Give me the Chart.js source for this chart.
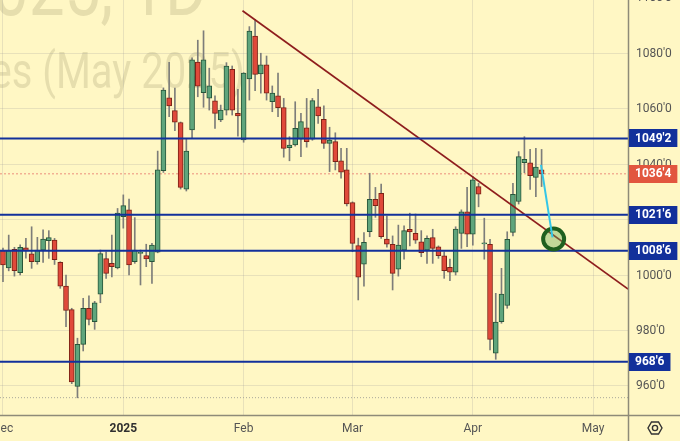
<!DOCTYPE html>
<html>
<head>
<meta charset="utf-8">
<script src="https://cdn.jsdelivr.net/npm/chart.js@4.4.1/dist/chart.umd.min.js"></script>
<style>
  html, body { margin: 0; padding: 0; background: #fff7c4; }
  #wrap { width: 680px; height: 441px; }
</style>
</head>
<body>
<div id="wrap"><canvas id="chart" width="680" height="441"></canvas></div>
<script>
// daily bars, Dec 2 2024 .. mid Apr 2025 (one entry per trading day)
const opens = [
  1008.8, 1002.6, 1009.3, 1000.8, 1009.8, 1007.6, 1004.8, 1009.0, 1012.4, 1012.6,
  1004.6, 996.0, 987.5, 959.8, 975.0, 988.0, 983.2, 993.1, 1005.9, 1004.2,
  1002.6, 1021.0, 1023.5, 1004.8, 1007.8, 1007.0, 1004.8, 1008.2, 1037.6, 1063.9,
  1059.3, 1055.0, 1031.0, 1052.3, 1076.8, 1065.8, 1063.8, 1062.8, 1055.9, 1059.5,
  1074.2, 1058.3, 1048.7, 1070.7, 1086.2, 1072.5, 1075.8, 1062.5, 1064.6, 1060.4,
  1045.9, 1046.9, 1049.0, 1053.1, 1049.0, 1060.7, 1056.2, 1047.5, 1048.1, 1041.2,
  1037.9, 1026.1, 1010.6, 1003.9, 1015.6, 1027.3, 1029.5, 1013.0, 1011.1, 1002.1,
  1009.0, 1016.5, 1015.0, 1012.0, 1009.0, 1013.5, 1010.2, 1006.9, 1002.8, 1001.0,
  1015.0, 1022.8, 1014.7, 1031.9, 1011.2, 1011.1, 971.8, 983.2, 989.0, 1015.4,
  1026.5, 1040.5, 1040.5, 1035.2, 1037.9
];
const highs = [
  1009.7, 1014.4, 1010.0, 1010.9, 1013.2, 1017.4, 1013.6, 1016.3, 1016.0, 1013.2,
  1004.8, 1000.0, 988.0, 977.2, 991.6, 992.5, 990.5, 1009.0, 1008.4, 1014.4,
  1024.0, 1028.9, 1027.4, 1020.7, 1009.0, 1011.1, 1011.4, 1044.7, 1067.5, 1076.7,
  1067.4, 1055.2, 1049.3, 1078.3, 1084.7, 1088.1, 1074.6, 1064.6, 1061.3, 1076.6,
  1075.4, 1067.0, 1073.0, 1089.6, 1092.2, 1080.0, 1079.0, 1068.2, 1072.8, 1063.7,
  1049.9, 1062.5, 1058.3, 1063.7, 1063.7, 1067.0, 1061.0, 1053.3, 1051.3, 1045.7,
  1045.7, 1026.4, 1013.3, 1015.3, 1036.7, 1031.6, 1032.8, 1021.3, 1014.1, 1018.0,
  1017.7, 1022.3, 1022.0, 1016.0, 1014.1, 1016.5, 1010.5, 1008.4, 1005.7, 1017.4,
  1023.5, 1031.6, 1035.5, 1033.1, 1020.5, 1012.9, 993.4, 1002.4, 1015.6, 1033.1,
  1044.5, 1049.9, 1045.3, 1045.7, 1045.3
];
const lows = [
  997.6, 1001.5, 999.6, 1000.0, 1006.1, 1002.4, 1003.9, 1004.5, 1006.0, 1003.8,
  995.2, 981.4, 960.8, 955.7, 972.6, 982.0, 980.4, 990.0, 998.8, 999.3,
  1002.2, 1016.9, 1000.0, 1004.2, 996.4, 1003.0, 997.0, 1008.0, 1037.0, 1057.1,
  1052.1, 1031.0, 1030.3, 1049.3, 1064.3, 1060.5, 1059.5, 1052.9, 1055.3, 1057.7,
  1057.7, 1050.1, 1047.9, 1063.1, 1066.5, 1065.6, 1063.1, 1058.9, 1057.1, 1042.5,
  1041.2, 1046.5, 1042.7, 1046.1, 1048.6, 1054.7, 1045.7, 1037.3, 1037.9, 1034.9,
  1024.9, 1008.4, 991.0, 996.0, 1013.8, 1020.8, 1013.2, 1010.0, 994.6, 999.6,
  1005.7, 1010.5, 1011.4, 1006.6, 1004.2, 1004.2, 1006.0, 998.8, 998.0, 1000.0,
  1009.6, 1010.2, 1010.8, 1024.6, 1005.7, 973.0, 969.6, 982.6, 988.0, 1014.1,
  1025.6, 1036.9, 1030.9, 1028.3, 1031.9
];
const closes = [
  1003.6, 1008.8, 1001.6, 1010.0, 1008.8, 1004.8, 1009.0, 1013.0, 1013.5, 1005.5,
  996.0, 987.2, 961.4, 975.0, 988.0, 984.0, 990.0, 1007.7, 1000.6, 1003.0,
  1022.3, 1025.0, 1003.6, 1009.0, 1008.2, 1005.8, 1010.8, 1037.9, 1066.7, 1061.0,
  1055.1, 1031.6, 1044.7, 1077.6, 1068.1, 1077.6, 1068.2, 1058.3, 1059.5, 1075.4,
  1059.5, 1057.4, 1072.8, 1088.0, 1072.4, 1075.8, 1065.6, 1065.6, 1060.4, 1045.7,
  1046.9, 1052.9, 1055.3, 1048.1, 1062.9, 1057.4, 1047.5, 1048.7, 1040.9, 1037.1,
  1025.6, 1011.4, 999.2, 1011.8, 1027.3, 1025.0, 1013.8, 1011.1, 1000.6, 1010.8,
  1016.0, 1015.5, 1012.6, 1008.1, 1013.2, 1009.6, 1007.0, 1001.6, 1001.0, 1016.6,
  1022.8, 1014.7, 1034.3, 1029.2, 1011.6, 976.8, 983.0, 993.1, 1012.9, 1029.1,
  1042.7, 1041.7, 1035.8, 1038.9, 1036.5
];

const monthTicks = [0, 21, 42, 61, 82, 103];
const monthLabels = ['Dec', '2025', 'Feb', 'Mar', 'Apr', 'May'];
const priceTicks = [960, 980, 1000, 1020, 1040, 1060, 1080, 1100];

// drawn levels (price in cents, eighths after the tick mark)
const levelValues = [1049.25, 1021.75, 1008.75, 968.75];
const levelLabels = ["1049'2", "1021'6", "1008'6", "968'6"];
const lastPrice = 1036.5;
const lastLabel = "1036'4";
const contractLow = 955.75;

// drawings: trend line, forecast arrow, target circle
const trendX = [41.8, 109.1];
const trendY = [1095.3, 994.9];
const arrowX = [93.9, 95.9];
const arrowY = [1039.7, 1013.6];
const targetX = [96.1];
const targetY = [1013.0];

const X_MIN = -0.52, X_MAX = 109.08;
const Y_MIN = 949.5, Y_MAX = 1099.2;

const BG = '#fff7c4';
const LEVEL_BLUE = '#12309b';
const GRID = 'rgba(150,150,150,0.22)';

const fmt = v => {
  const w = Math.floor(v + 1e-9);
  return w + "'" + Math.round((v - w) * 8);
};

const idx = opens.map((_, i) => i);
const isUp = idx.map(i => closes[i] >= opens[i]);

const hline = (v) => [{ x: X_MIN, y: v }, { x: X_MAX, y: v }];

const datasets = [
  {
    type: 'bar',
    label: 'wick',
    data: idx.map(i => ({ x: i, y: [lows[i], highs[i]] })),
    backgroundColor: '#7d7d7a',
    barThickness: 1,
    grouped: false,
    order: 3
  },
  {
    type: 'bar',
    label: 'body',
    data: idx.map(i => ({ x: i, y: [opens[i], closes[i]] })),
    backgroundColor: idx.map(i => isUp[i] ? '#5fa57c' : '#e0493a'),
    borderColor: idx.map(i => isUp[i] ? '#27563a' : '#7c2216'),
    borderWidth: 1,
    borderSkipped: false,
    barThickness: 5,
    grouped: false,
    order: 2
  },
  {
    type: 'line', label: 'last',
    data: hline(lastPrice),
    borderColor: '#ec8f7c', borderWidth: 1, borderDash: [2, 2],
    pointRadius: 0, order: 4
  },
  {
    type: 'line', label: 'low',
    data: hline(contractLow),
    borderColor: '#a9a79a', borderWidth: 1, borderDash: [1, 2],
    pointRadius: 0, order: 4
  },
  ...levelValues.map(v => ({
    type: 'line', label: 'level',
    data: hline(v),
    borderColor: LEVEL_BLUE, borderWidth: 2,
    pointRadius: 0, order: 1
  })),
  {
    type: 'line', label: 'trend',
    data: trendX.map((x, i) => ({ x, y: trendY[i] })),
    borderColor: '#8e1d1d', borderWidth: 1.7,
    pointRadius: 0, order: 1
  },
  {
    type: 'line', label: 'arrow',
    data: arrowX.map((x, i) => ({ x, y: arrowY[i] })),
    borderColor: '#33c6e8', borderWidth: 2,
    pointRadius: 0, order: 0
  },
  {
    type: 'line', label: 'target',
    data: targetX.map((x, i) => ({ x, y: targetY[i] })),
    showLine: false,
    pointRadius: 10.5,
    pointBorderWidth: 4,
    pointBorderColor: '#1f5f1f',
    pointBackgroundColor: 'rgba(100,170,90,0.4)',
    order: 0
  }
];

const backdrop = {
  id: 'backdrop',
  beforeDraw(chart) {
    const ctx = chart.ctx;
    ctx.save();
    ctx.fillStyle = BG;
    ctx.fillRect(0, 0, chart.width, chart.height);
    // watermark
    ctx.fillStyle = 'rgba(60,55,20,0.13)';
    ctx.scale(0.8, 1);
    ctx.textAlign = 'right';
    ctx.textBaseline = 'alphabetic';
    ctx.font = '50px Roboto';
    ctx.fillText('Soybean Futures (May 2025)', 245 / 0.8, 88);
    ctx.font = '80px Roboto';
    ctx.fillText('ZSK2025, 1D', 207 / 0.8, 15);
    ctx.restore();
  },
  afterDraw(chart) {
    const ctx = chart.ctx;
    const ca = chart.chartArea;
    const x = chart.scales.x;
    const y = chart.scales.y;
    ctx.save();
    // axis lines
    ctx.strokeStyle = '#8e8b78';
    ctx.lineWidth = 1.5;
    ctx.beginPath();
    ctx.moveTo(ca.right + 0.5, 0);
    ctx.lineTo(ca.right + 0.5, chart.height);
    ctx.moveTo(0, ca.bottom + 0.5);
    ctx.lineTo(chart.width, ca.bottom + 0.5);
    ctx.stroke();

    // time labels
    ctx.textBaseline = 'middle';
    ctx.textAlign = 'center';
    monthTicks.forEach((v, i) => {
      const bold = monthLabels[i] === '2025';
      ctx.font = (bold ? 'bold ' : '') + '12px Roboto';
      ctx.fillStyle = bold ? '#2f2f2f' : '#555';
      ctx.fillText(monthLabels[i], x.getPixelForValue(v), ca.bottom + 13.5);
    });

    // price labels
    ctx.textAlign = 'left';
    ctx.font = '12px Roboto';
    ctx.fillStyle = '#555';
    priceTicks.forEach(v => {
      ctx.fillText(fmt(v), ca.right + 8, y.getPixelForValue(v) + 0.5);
    });

    // level tags
    ctx.font = 'bold 12px Roboto';
    const tag = (v, text, color) => {
      const py = y.getPixelForValue(v);
      const w = ctx.measureText(text).width + 12;
      ctx.fillStyle = color;
      ctx.fillRect(ca.right + 1, Math.round(py) - 9, w, 18);
      ctx.fillStyle = '#ffffff';
      ctx.fillText(text, ca.right + 7, py + 0.5);
    };
    levelValues.forEach((v, i) => tag(v, levelLabels[i], LEVEL_BLUE));
    tag(lastPrice, lastLabel, '#e2563f');

    // settings icon
    const cx = 655, cy = 428, r = 7;
    ctx.strokeStyle = '#333';
    ctx.lineWidth = 1.4;
    ctx.beginPath();
    for (let k = 0; k < 6; k++) {
      const a = Math.PI / 3 * k;
      const px = cx + r * Math.cos(a), pyy = cy + r * Math.sin(a);
      if (k === 0) ctx.moveTo(px, pyy); else ctx.lineTo(px, pyy);
    }
    ctx.closePath();
    ctx.stroke();
    ctx.beginPath();
    ctx.arc(cx, cy, 2.6, 0, Math.PI * 2);
    ctx.stroke();
    ctx.restore();
  }
};

new Chart(document.getElementById('chart'), {
  type: 'bar',
  data: { datasets },
  options: {
    responsive: false,
    animation: false,
    events: [],
    layout: { padding: 0, autoPadding: false },
    plugins: { legend: { display: false }, tooltip: { enabled: false } },
    scales: {
      x: {
        type: 'linear',
        min: X_MIN,
        max: X_MAX,
        offset: false,
        grid: { offset: false, color: GRID, lineWidth: 1, drawTicks: false },
        border: { display: false },
        afterBuildTicks: s => { s.ticks = monthTicks.map(v => ({ value: v })); },
        afterFit: s => { s.height = 26; },
        ticks: { display: false }
      },
      y: {
        type: 'linear',
        position: 'right',
        min: Y_MIN,
        max: Y_MAX,
        beginAtZero: false,
        grid: { color: GRID, lineWidth: 1, drawTicks: false },
        border: { display: false },
        afterBuildTicks: s => { s.ticks = priceTicks.map(v => ({ value: v })); },
        afterFit: s => { s.width = 52; },
        ticks: { display: false }
      }
    }
  },
  plugins: [backdrop]
});
</script>
</body>
</html>
